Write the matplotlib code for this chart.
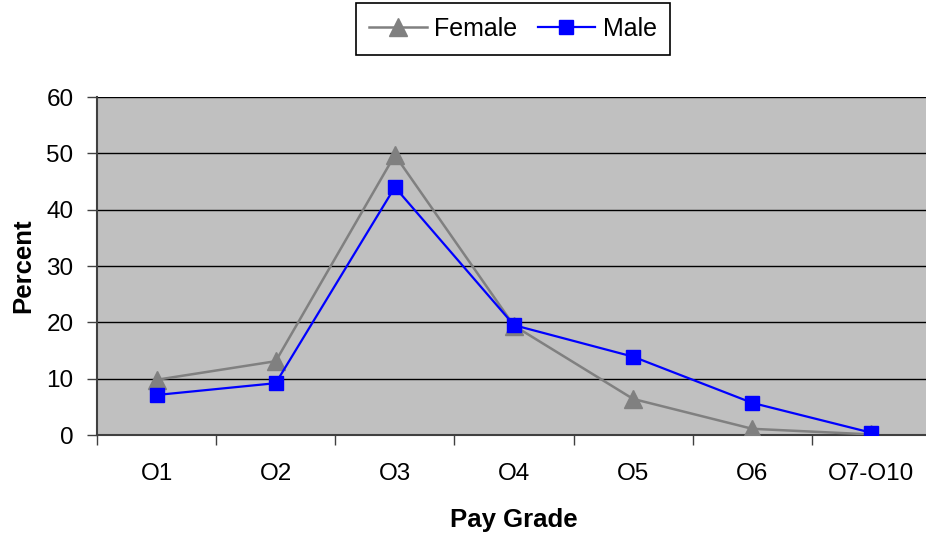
import matplotlib
matplotlib.use("Agg")
import matplotlib.pyplot as plt
import numpy as np

categories = ["O1", "O2", "O3", "O4", "O5", "O6", "O7-O10"]
female = [9.8, 13.1, 49.7, 19.4, 6.4, 1.1, 0.1]
male = [7.1, 9.2, 44.0, 19.5, 13.9, 5.7, 0.4]
yticks = [0, 10, 20, 30, 40, 50, 60]

plt.rcParams['font.family'] = ['Liberation Sans', 'DejaVu Sans']

W, H = 926, 540
fig = plt.figure(figsize=(W / 100, H / 100), dpi=100)
L, R, T, B = 97, 931, 97, 435
ax = fig.add_axes([L / W, 1 - B / H, (R - L) / W, (B - T) / H])
ax.set_facecolor('#c0c0c0')

x = np.arange(len(categories))
ax.plot(x, female, color='#808080', lw=1.8, marker='^', ms=13, label='Female', zorder=3)
ax.plot(x, male, color='#0000ff', lw=1.6, marker='s', ms=10, label='Male', zorder=4)

ax.set_xlim(-0.5, len(categories) - 0.5)
ax.set_ylim(0, 60)
ax.set_yticks(yticks)
ax.set_yticklabels([str(v) for v in yticks], fontsize=17.5)
ax.yaxis.grid(True, color='black', lw=1)
ax.set_axisbelow(True)

ax.set_xticks(x)
ax.set_xticklabels(categories, fontsize=17.5)
ax.set_xticks(np.arange(-0.5, len(categories), 1.0), minor=True)
ax.tick_params(axis='x', which='major', length=0, pad=20)
ax.tick_params(axis='x', which='minor', length=7, width=1, color='#404040', direction='out')
ax.tick_params(axis='y', length=7, width=1, color='#404040', pad=10)

for s in ['top', 'right']:
    ax.spines[s].set_visible(False)
ax.spines['left'].set_color('#404040')
ax.spines['left'].set_linewidth(1.5)
ax.spines['bottom'].set_color('#404040')
ax.spines['bottom'].set_linewidth(1.5)
ax.spines['left'].set_bounds(0, 60)

ax.set_xlabel('Pay Grade', fontsize=18.5, fontweight='bold', labelpad=17)
ax.set_ylabel('Percent', fontsize=18.5, fontweight='bold', labelpad=8)

leg = fig.legend(loc='center', bbox_to_anchor=(513 / W, 1 - 29 / H), ncol=2, fontsize=18,
                 frameon=True, fancybox=False, edgecolor='black', framealpha=1,
                 handlelength=2.3, columnspacing=0.8, handletextpad=0.3, borderpad=0.55)
leg.get_frame().set_linewidth(1.2)

fig.savefig('out.png', dpi=100)
